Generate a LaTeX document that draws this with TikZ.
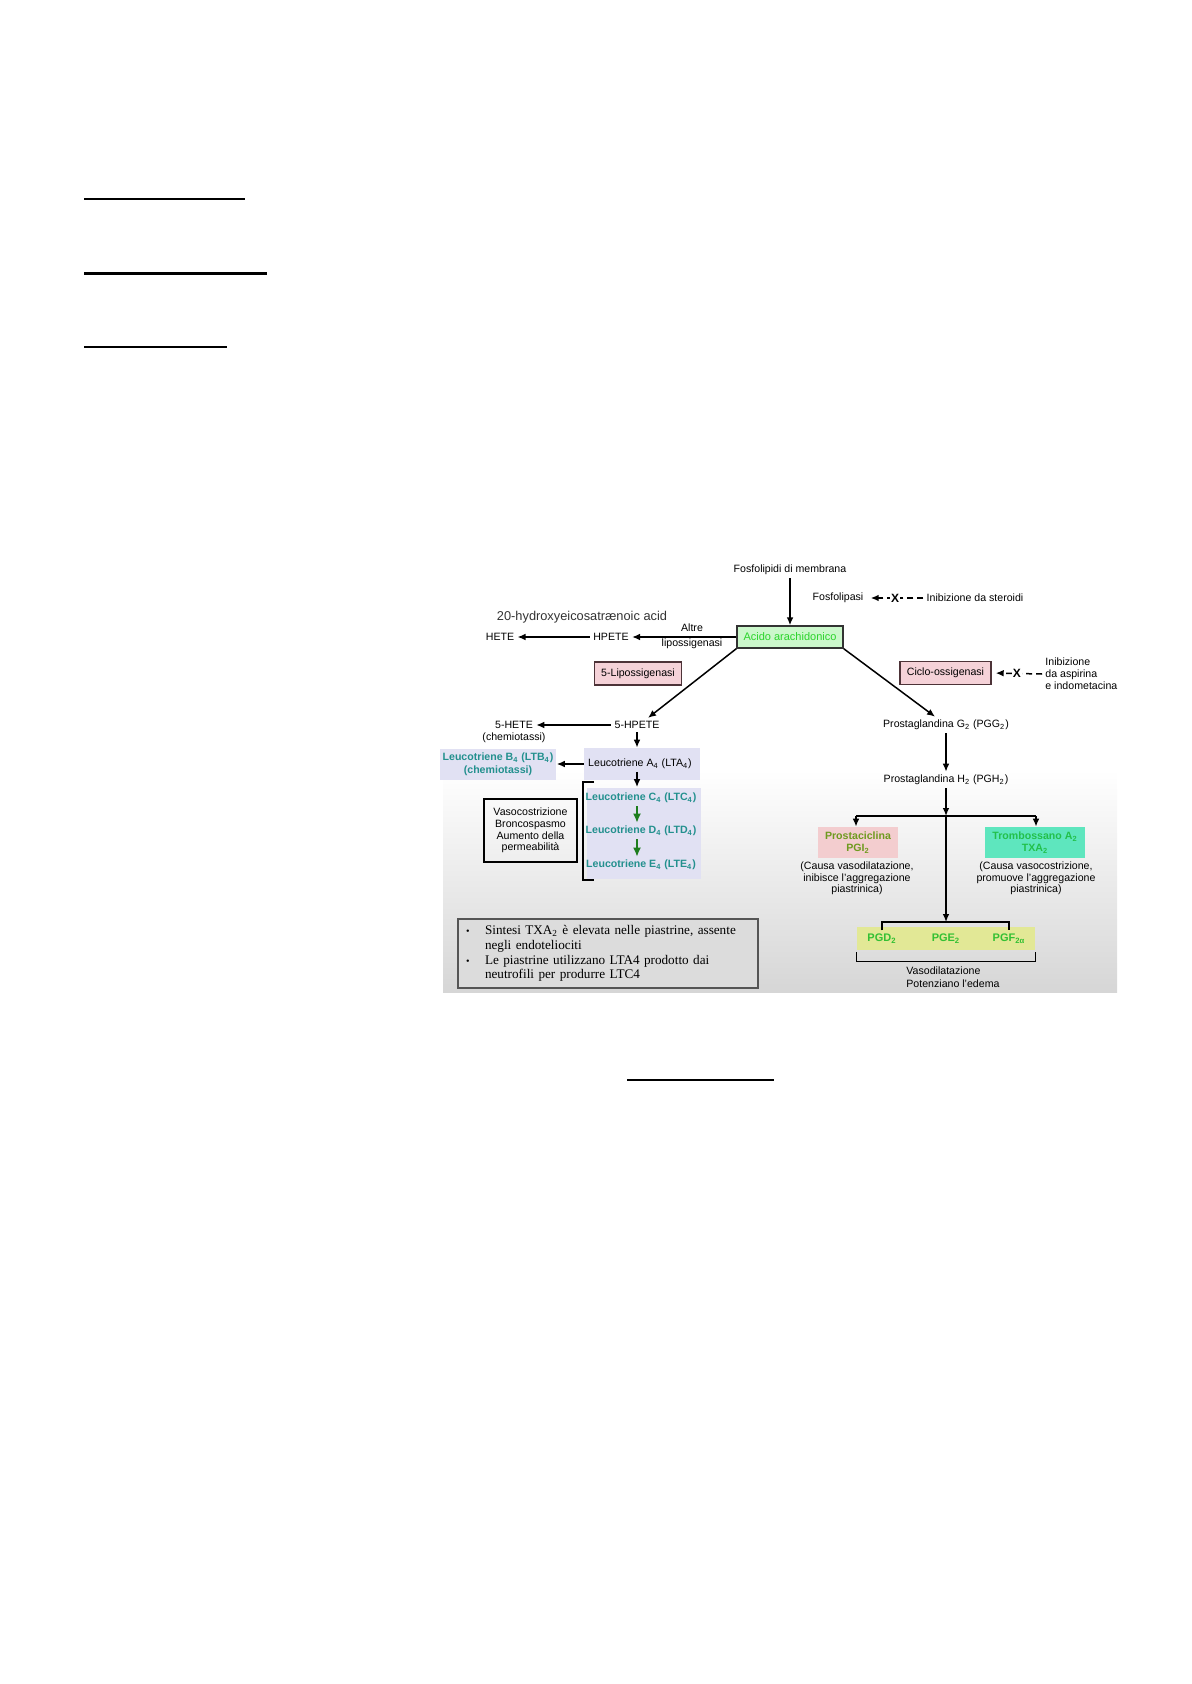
\documentclass[tikz,border=0pt]{standalone}
\usepackage{fontspec}
\setmainfont{Liberation Sans}
\newfontfamily\serifnote{Liberation Serif}
\usetikzlibrary{arrows.meta,calc}
\definecolor{cTeal}{HTML}{23908E}
\definecolor{cAcidFill}{HTML}{CBF7CB}
\definecolor{cAcidText}{HTML}{2BD42B}
\definecolor{cPink}{HTML}{F5D2D8}
\definecolor{cPinkBorder}{HTML}{4D3338}
\definecolor{cLav}{HTML}{E1E1F3}
\definecolor{cGreenArr}{HTML}{1E7D1E}
\definecolor{cProFill}{HTML}{F3CDCF}
\definecolor{cProText}{HTML}{6E9A1E}
\definecolor{cTroFill}{HTML}{5EE6BE}
\definecolor{cTroText}{HTML}{22C04A}
\definecolor{cYel}{HTML}{E2E896}
\definecolor{cPGText}{HTML}{33C033}
\definecolor{cNote}{HTML}{DCDCDC}
\definecolor{cNoteBorder}{HTML}{555555}
\definecolor{cBg}{HTML}{D6D6D6}
\definecolor{cDark}{HTML}{333333}
\newcommand\dgS{\fontsize{5.3}{6}\selectfont}
\begin{document}
\begin{tikzpicture}[x=0.5pt,y=-0.5pt,
  txt/.style={font=\dgS, inner sep=1.5pt},
  arr/.style={line width=0.75pt, -{Latex[length=4pt,width=3.4pt]}},
  garr/.style={line width=0.8pt, draw=cGreenArr, -{Latex[length=4.5pt,width=4pt]}, color=cGreenArr},
  dasharr/.style={arr, dash pattern=on 3pt off 2pt},
  xmark/.style={font=\fontsize{6}{6}\selectfont\bfseries, inner sep=0.4pt, fill=white},
  enz/.style={txt, draw=cPinkBorder, fill=cPink, line width=0.7pt, minimum height=11.5pt},
  lavbox/.style={fill=cLav, inner sep=0pt},
  ltxt/.style={txt, font=\dgS\bfseries, text=cTeal},
  pgtxt/.style={txt, font=\fontsize{5.5}{6}\selectfont\bfseries, text=cPGText},
  brk/.style={line width=0.75pt}
]
\useasboundingbox (0,0) rectangle (1191,1684);
% photo background
\fill[white] (443,558) rectangle (1117,771);
\shade[top color=white, bottom color=cBg] (443,770) rectangle (1117,992);
% underlines
\draw[line width=0.7pt] (84,199) -- (245,199);
\draw[line width=1.1pt] (84,273.5) -- (267,273.5);
\draw[line width=1pt] (84,347.5) -- (227,347.5);
\draw[line width=1pt] (627,1080) -- (774,1080);

% top
\node[txt] (fosf) at (790,570) {Fosfolipidi di membrana};
\node[txt, font=\fontsize{5.5}{6}\selectfont, draw=black!80, fill=cAcidFill, text=cAcidText, line width=0.7pt, minimum width=53pt, minimum height=11pt] (acido) at (790,637) {Acido arachidonico};
\draw[arr] (fosf.south) -- (acido.north);
\node[txt] (fosfolipasi) at (838,598) {Fosfolipasi};
\node[txt] (inibster) at (975,598) {Inibizione da steroidi};
\draw[dasharr, shorten >=2pt] (inibster.west) -- (fosfolipasi.east) node[xmark, pos=0.5] {X};

\node[txt, font=\fontsize{6.4}{7}\selectfont, text=cDark] (hydroxy) at (582,617) {20-hydroxyeicosatrænoic acid};
\node[txt, align=center, font=\fontsize{5.3}{7.5}\selectfont] (altre) at (692,636.5) {Altre\\lipossigenasi};
\node[txt] (hpete) at (611,637) {HPETE};
\node[txt] (hete) at (500,637) {HETE};
\draw[arr] (acido.west) -- (hpete.east);
\draw[arr] (hpete.west) -- (hete.east);

\node[enz, minimum width=43.5pt] (lipo) at (638,673.5) {5-Lipossigenasi};
\node[enz, minimum width=45.5pt] (ciclo) at (945.5,673) {Ciclo-ossigenasi};
\node[txt, anchor=west, align=left] (inibasp) at (1042,674) {Inibizione\\da aspirina\\e indometacina};
\draw[dasharr, shorten >=2pt] (inibasp.west) -- (ciclo.east) node[xmark, pos=0.5] {X};

% second level
\node[txt] (hpete5) at (637,725) {5-HPETE};
\node[txt] (hete5) at (514,725) {5-HETE};
\node[txt] (chemio) at (514,737.5) {(chemiotassi)};
\draw[arr] (hpete5.west) -- (hete5.east);
\node[txt] (pgg2) at (946,725) {Prostaglandina G\textsubscript{2} (PGG\textsubscript{2})};
\draw[arr] (acido.south west) -- ([xshift=5.5pt]hpete5.north);
\draw[arr] (acido.south east) -- ([xshift=-5.5pt]pgg2.north);

% leukotrienes
\node[lavbox, minimum width=58pt, minimum height=16pt] (lta4bg) at (642,764) {};
\node[txt] (lta4) at (640,763.5) {Leucotriene A\textsubscript{4} (LTA\textsubscript{4})};
\node[txt, text=cTeal, fill=cLav, align=center, minimum width=58pt, minimum height=15.5pt, font=\fontsize{5.3}{6.5}\selectfont\bfseries] (ltb4) at (498,764) {Leucotriene B\textsubscript{4} (LTB\textsubscript{4})\\(chemiotassi)};
\draw[arr] (lta4bg.west) -- (ltb4.east);
\draw[arr] (hpete5.south) -- (hpete5.south |- lta4bg.north);

\node[lavbox, minimum width=57pt, minimum height=45.5pt] (ltbg) at (643.5,833) {};
\node[ltxt] (ltc4) at (641,798) {Leucotriene C\textsubscript{4} (LTC\textsubscript{4})};
\node[ltxt] (ltd4) at (641,831) {Leucotriene D\textsubscript{4} (LTD\textsubscript{4})};
\node[ltxt] (lte4) at (641,865) {Leucotriene E\textsubscript{4} (LTE\textsubscript{4})};
\draw[arr] (lta4.south -| hpete5.south) -- (hpete5.south |- ltbg.north);
\draw[garr] (ltc4.south -| hpete5.south) -- (hpete5.south |- ltd4.north);
\draw[garr] (ltd4.south -| hpete5.south) -- (hpete5.south |- lte4.north);
\draw[brk] (594,782) -- (583,782) -- (583,880) -- (594,880);

\node[txt, draw, line width=0.7pt, minimum width=46.5pt, minimum height=31.5pt, align=center, font=\fontsize{5.3}{5.85}\selectfont] (vaso) at (530.5,830.5) {Vasocostrizione\\Broncospasmo\\Aumento della\\permeabilità};

% prostaglandins
\node[txt] (pgh2) at (946,780) {Prostaglandina H\textsubscript{2} (PGH\textsubscript{2})};
\draw[arr] (pgg2.south) -- (pgh2.north);
\coordinate (br) at (946,816);
\coordinate (brl) at (856,816);
\coordinate (brr) at (1036,816);
\draw[arr] (pgh2.south) -- (br);
\draw[brk] (brl) -- (brr);
\node[txt, fill=cProFill, text=cProText, align=center, minimum width=40pt, minimum height=15.5pt, font=\fontsize{5.3}{6}\selectfont\bfseries] (prosta) at (858,842.5) {Prostaciclina\\PGI\textsubscript{2}};
\node[txt, fill=cTroFill, text=cTroText, align=center, minimum width=50pt, minimum height=15.5pt, font=\fontsize{5.3}{6}\selectfont\bfseries] (trombo) at (1035,842.5) {Trombossano A\textsubscript{2}\\TXA\textsubscript{2}};
\draw[arr] (brl) -- (brl |- prosta.north);
\draw[arr] (brr) -- (brr |- trombo.north);
\node[txt, align=center, font=\fontsize{5.3}{5.75}\selectfont] (prostad) at (857,878.5) {(Causa vasodilatazione,\\inibisce l'aggregazione\\piastrinica)};
\node[txt, align=center, font=\fontsize{5.3}{5.75}\selectfont] (trombod) at (1036,878.5) {(Causa vasocostrizione,\\promuove l'aggregazione\\piastrinica)};

\node[fill=cYel, inner sep=0pt, minimum width=89pt, minimum height=11.5pt] (pgbox) at (946,938.5) {};
\node[pgtxt] (pgd) at (882,938.5) {PGD\textsubscript{2}};
\node[pgtxt] (pge) at (946,938.5) {PGE\textsubscript{2}};
\node[pgtxt] (pgf) at (1009,938.5) {PGF\textsubscript{2α}};
\coordinate (bt) at (946,922);
\draw[arr] (br) -- (bt);
\draw[brk] (pgd.north) -- (pgd.north |- bt) -- (pgf.north |- bt) -- (pgf.north);
\draw[brk] ([yshift=-1pt]pgbox.south west) -- ++(0,9) -| ([yshift=-1pt]pgbox.south east);
\node[txt, anchor=west, align=left, font=\fontsize{5.3}{6.5}\selectfont] (vasod) at (903,977.5) {Vasodilatazione\\Potenziano l'edema};

% note box
\node[draw=cNoteBorder, fill=cNote, line width=0.7pt, inner xsep=4pt, inner ysep=2pt, text width=142pt, minimum height=34.5pt, align=left, font=\serifnote\fontsize{6.6}{7.35}\selectfont] (note) at (608,953.5) {\makebox[9.5pt][l]{\fontsize{5}{5}\selectfont\textbullet}Sintesi TXA\textsubscript{2} è elevata nelle piastrine, assente\\\hspace*{9.5pt}negli endoteliociti\\\makebox[9.5pt][l]{\fontsize{5}{5}\selectfont\textbullet}Le piastrine utilizzano LTA4 prodotto dai\\\hspace*{9.5pt}neutrofili per produrre LTC4};
\end{tikzpicture}
\end{document}
